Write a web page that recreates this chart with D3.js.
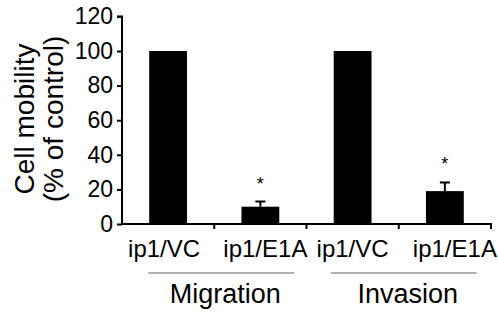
<!DOCTYPE html>
<html>
<head>
<meta charset="utf-8">
<script src="https://cdn.jsdelivr.net/npm/d3@7"></script>
<style>
html,body{margin:0;padding:0;background:#fff;}
text{font-family:"Liberation Sans",Arial,sans-serif;fill:#000;}
</style>
</head>
<body>
<svg id="chart" width="498" height="316"></svg>
<script>
const categories = ["ip1/VC", "ip1/E1A", "ip1/VC", "ip1/E1A"];
const values = [100, 10, 100, 19];
const errors = [0, 3, 0, 5];
const significant = [false, true, false, true];
const groups = ["Migration", "Invasion"];
const yTicks = [0, 20, 40, 60, 80, 100, 120];

const svg = d3.select("#chart");
const x0 = 122, x1 = 491, yBase = 224, yTop = 16.4;

const x = d3.scaleBand().domain(d3.range(categories.length)).range([x0, x1]).paddingInner(0).paddingOuter(0);
const y = d3.scaleLinear().domain([0, 120]).range([yBase, yTop]);
const barW = x.bandwidth() * 0.41;

// bars
svg.selectAll("rect.bar").data(values).enter().append("rect")
  .attr("x", (d, i) => x(i) + x.bandwidth() / 2 - barW / 2)
  .attr("y", d => y(d))
  .attr("width", barW)
  .attr("height", d => yBase - y(d))
  .attr("fill", "#000");

// error bars
values.forEach((v, i) => {
  if (!errors[i]) return;
  const cx = x(i) + x.bandwidth() / 2;
  svg.append("line").attr("x1", cx).attr("x2", cx)
    .attr("y1", y(v)).attr("y2", y(v + errors[i]))
    .attr("stroke", "#000").attr("stroke-width", 2);
  svg.append("line").attr("x1", cx - 5).attr("x2", cx + 5)
    .attr("y1", y(v + errors[i])).attr("y2", y(v + errors[i]))
    .attr("stroke", "#000").attr("stroke-width", 2);
  if (significant[i]) {
    svg.append("text").attr("x", cx).attr("y", y(v + errors[i]) - 12)
      .attr("text-anchor", "middle").attr("font-size", 18).text("*");
  }
});

// y axis
const yAxis = d3.axisLeft(y).tickValues(yTicks).tickSize(5).tickPadding(4);
const gy = svg.append("g").attr("transform", `translate(${x0},0)`).call(yAxis);
gy.select(".domain").attr("stroke-width", 2).attr("d", `M-5,${y(120)}H0V${yBase}`);
gy.selectAll(".tick line").attr("stroke-width", 2);
gy.selectAll(".tick text").attr("font-size", 23).attr("font-family", "Liberation Sans, Arial, sans-serif").attr("fill", "#000");

// x axis line with ticks at band boundaries
svg.append("line").attr("x1", x0 - 1).attr("x2", x1 + 1).attr("y1", yBase).attr("y2", yBase)
  .attr("stroke", "#000").attr("stroke-width", 2);
d3.range(1, categories.length + 1).forEach(k => {
  const tx = x0 + k * x.bandwidth();
  svg.append("line").attr("x1", tx).attr("x2", tx).attr("y1", yBase).attr("y2", yBase + 5)
    .attr("stroke", "#000").attr("stroke-width", 2);
});

// category labels (E1A labels sit slightly right of band centre in the original)
const labelShift = [-4, 5, 0, 10];
svg.selectAll("text.cat").data(categories).enter().append("text")
  .attr("class", "cat")
  .attr("x", (d, i) => x(i) + x.bandwidth() / 2 + labelShift[i])
  .attr("y", 257)
  .attr("text-anchor", "middle").attr("font-size", 24)
  .text(d => d);

// group lines and labels
const groupShift = [7, 5];
groups.forEach((g, gi) => {
  const a = x(gi * 2), b = x(gi * 2 + 1) + x.bandwidth();
  const cx = (a + b) / 2 + groupShift[gi];
  svg.append("line").attr("x1", cx - 73).attr("x2", cx + 73).attr("y1", 273).attr("y2", 273)
    .attr("stroke", "#999").attr("stroke-width", 1.5);
  svg.append("text").attr("x", cx + 4).attr("y", 303).attr("text-anchor", "middle")
    .attr("font-size", 27).text(g);
});

// y title
const yt = svg.append("text").attr("transform", "translate(34,119) rotate(-90)")
  .attr("text-anchor", "middle").attr("font-size", 28);
yt.append("tspan").attr("x", 0).attr("dy", 0).text("Cell mobility");
yt.append("tspan").attr("x", 0).attr("dy", 29).text("(% of control)");
</script>
</body>
</html>
